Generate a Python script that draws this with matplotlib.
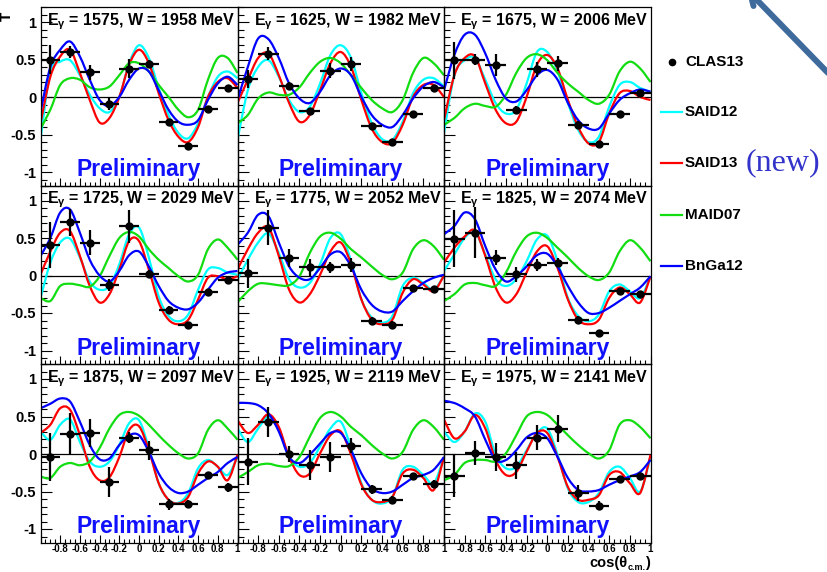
import numpy as np
import matplotlib
matplotlib.use("Agg")
import matplotlib.pyplot as plt
from matplotlib.lines import Line2D
from matplotlib.path import Path
from matplotlib.patches import PathPatch
from matplotlib.ticker import MultipleLocator

plt.rcParams['font.family'] = ['Liberation Sans', 'DejaVu Sans']
plt.rcParams['font.weight'] = 'bold'
plt.rcParams['mathtext.fontset'] = 'custom'
plt.rcParams['mathtext.rm'] = 'Liberation Sans:bold'
plt.rcParams['mathtext.it'] = 'Liberation Sans:bold'
plt.rcParams['mathtext.bf'] = 'Liberation Sans:bold'

# ---------------- data ----------------
E_GAMMA = [1575, 1625, 1675, 1725, 1775, 1825, 1875, 1925, 1975]
W_MEV = [1958, 1982, 2006, 2029, 2052, 2074, 2097, 2119, 2141]

X_BINS = [-0.9, -0.7, -0.5, -0.3, -0.1, 0.1, 0.3, 0.5, 0.7, 0.9]
X_BIN_HALF = 0.1

CLAS13_T = [
    [0.50, 0.60, 0.33, -0.09, 0.38, 0.44, -0.33, -0.65, -0.16, 0.12],
    [0.24, 0.58, 0.15, -0.19, 0.35, 0.44, -0.39, -0.60, -0.22, 0.12],
    [0.49, 0.50, 0.43, -0.17, 0.37, 0.45, -0.37, -0.62, -0.22, 0.06],
    [0.41, 0.71, 0.44, -0.12, 0.66, 0.02, -0.46, -0.66, -0.22, -0.06],
    [0.03, 0.64, 0.23, 0.11, 0.11, 0.14, -0.60, -0.66, -0.16, -0.18],
    [0.49, 0.57, 0.24, 0.02, 0.14, 0.17, -0.59, -0.77, -0.20, -0.25],
    [-0.04, 0.27, 0.28, -0.37, 0.22, 0.05, -0.67, -0.66, -0.28, -0.44],
    [-0.10, 0.43, 0.00, -0.15, -0.04, 0.11, -0.47, -0.61, -0.29, -0.40],
    [-0.29, 0.01, -0.04, -0.15, 0.22, 0.34, -0.52, -0.69, -0.33, -0.29],
]
CLAS13_ERR = [
    [0.19, 0.085, 0.10, 0.08, 0.13, 0.05, 0.04, 0.03, 0.04, 0.04],
    [0.12, 0.09, 0.05, 0.05, 0.10, 0.09, 0.04, 0.03, 0.03, 0.03],
    [0.25, 0.07, 0.15, 0.05, 0.10, 0.10, 0.05, 0.03, 0.03, 0.03],
    [0.31, 0.18, 0.17, 0.08, 0.22, 0.05, 0.05, 0.04, 0.04, 0.05],
    [0.19, 0.23, 0.12, 0.11, 0.07, 0.09, 0.05, 0.05, 0.03, 0.03],
    [0.38, 0.34, 0.10, 0.10, 0.08, 0.06, 0.05, 0.05, 0.03, 0.03],
    [0.32, 0.28, 0.19, 0.20, 0.07, 0.13, 0.07, 0.05, 0.04, 0.06],
    [0.31, 0.20, 0.11, 0.20, 0.20, 0.10, 0.06, 0.05, 0.04, 0.05],
    [0.28, 0.16, 0.19, 0.18, 0.17, 0.18, 0.11, 0.06, 0.04, 0.04],
]

# model curves sampled at cos(theta) = -1.0, -0.9, ..., 1.0
X_GRID = [-1.0, -0.9, -0.8, -0.7, -0.6, -0.5, -0.4, -0.3, -0.2, -0.1, 0.0,
          0.1, 0.2, 0.3, 0.4, 0.5, 0.6, 0.7, 0.8, 0.9, 1.0]

SAID12 = [
    [-0.57, 0.34, 0.47, 0.49, 0.29, 0.03, -0.15, -0.20, 0.00, 0.45, 0.69, 0.52, 0.12, -0.24, -0.48, -0.55, -0.35, 0.00, 0.27, 0.34, 0.25],
    [-0.57, 0.09, 0.40, 0.49, 0.27, -0.04, -0.20, -0.13, 0.18, 0.56, 0.69, 0.52, 0.05, -0.35, -0.56, -0.57, -0.33, 0.05, 0.23, 0.25, 0.14],
    [-0.48, 0.29, 0.49, 0.52, 0.23, -0.08, -0.22, -0.17, 0.18, 0.60, 0.60, 0.34, -0.08, -0.44, -0.60, -0.53, -0.13, 0.16, 0.20, 0.12, 0.07],
    [-0.30, 0.17, 0.44, 0.49, 0.24, -0.08, -0.19, -0.14, 0.15, 0.55, 0.64, 0.24, -0.28, -0.54, -0.61, -0.52, -0.19, 0.08, 0.10, 0.04, 0.01],
    [-0.05, 0.21, 0.44, 0.56, 0.30, -0.05, -0.16, -0.10, 0.15, 0.50, 0.55, 0.19, -0.32, -0.56, -0.63, -0.54, -0.14, -0.03, -0.10, -0.19, 0.00],
    [0.06, 0.28, 0.50, 0.58, 0.28, -0.05, -0.14, -0.05, 0.19, 0.48, 0.53, 0.19, -0.30, -0.54, -0.61, -0.52, -0.21, -0.12, -0.21, -0.30, -0.01],
    [0.30, 0.19, 0.39, 0.46, 0.16, -0.10, -0.17, -0.10, 0.12, 0.41, 0.45, 0.08, -0.39, -0.61, -0.65, -0.52, -0.19, -0.08, -0.17, -0.28, -0.04],
    [0.34, 0.16, 0.34, 0.50, 0.34, -0.04, -0.17, -0.12, 0.10, 0.34, 0.43, 0.08, -0.39, -0.61, -0.66, -0.57, -0.21, -0.17, -0.28, -0.39, -0.04],
    [0.30, 0.16, 0.30, 0.54, 0.43, -0.01, -0.19, -0.17, 0.05, 0.28, 0.34, -0.01, -0.46, -0.64, -0.64, -0.52, -0.24, -0.17, -0.32, -0.50, -0.04],
]
SAID13 = [
    [-0.35, 0.27, 0.54, 0.63, 0.32, -0.04, -0.34, -0.28, 0.00, 0.43, 0.63, 0.45, 0.05, -0.31, -0.53, -0.60, -0.40, 0.00, 0.20, 0.25, 0.12],
    [-0.08, 0.23, 0.52, 0.58, 0.29, -0.08, -0.33, -0.24, 0.09, 0.45, 0.60, 0.40, -0.04, -0.42, -0.60, -0.61, -0.37, 0.00, 0.16, 0.16, 0.00],
    [-0.31, 0.29, 0.52, 0.54, 0.18, -0.17, -0.35, -0.33, 0.00, 0.43, 0.56, 0.38, -0.04, -0.40, -0.62, -0.60, -0.22, 0.05, 0.08, 0.00, -0.04],
    [0.01, 0.32, 0.57, 0.59, 0.26, -0.14, -0.36, -0.25, 0.08, 0.46, 0.46, 0.08, -0.36, -0.59, -0.65, -0.59, -0.32, -0.03, -0.01, -0.05, -0.01],
    [0.08, 0.35, 0.57, 0.64, 0.26, -0.19, -0.36, -0.25, 0.01, 0.32, 0.44, 0.15, -0.32, -0.59, -0.65, -0.59, -0.23, -0.05, -0.12, -0.21, 0.00],
    [0.17, 0.37, 0.52, 0.60, 0.26, -0.16, -0.36, -0.25, 0.04, 0.32, 0.39, 0.10, -0.32, -0.59, -0.65, -0.59, -0.30, -0.16, -0.25, -0.36, -0.01],
    [0.28, 0.39, 0.61, 0.59, 0.25, -0.17, -0.35, -0.31, -0.04, 0.32, 0.37, 0.05, -0.39, -0.61, -0.66, -0.57, -0.26, -0.10, -0.17, -0.35, -0.01],
    [0.45, 0.28, 0.39, 0.53, 0.36, -0.04, -0.28, -0.26, 0.01, 0.25, 0.30, -0.01, -0.41, -0.61, -0.64, -0.57, -0.26, -0.21, -0.32, -0.48, -0.04],
    [0.46, 0.21, 0.30, 0.52, 0.34, -0.08, -0.28, -0.24, 0.03, 0.28, 0.28, -0.04, -0.44, -0.61, -0.61, -0.55, -0.28, -0.24, -0.39, -0.52, -0.01],
]
MAID07 = [
    [-0.42, -0.17, 0.16, 0.25, 0.23, 0.13, 0.10, 0.14, 0.29, 0.45, 0.45, 0.34, 0.16, 0.00, -0.17, -0.27, -0.17, 0.23, 0.52, 0.52, 0.32],
    [-0.35, -0.24, -0.02, 0.06, 0.03, 0.03, 0.13, 0.32, 0.47, 0.52, 0.45, 0.29, 0.12, -0.04, -0.15, -0.20, -0.04, 0.32, 0.52, 0.45, 0.29],
    [-0.37, -0.28, -0.15, -0.09, -0.12, -0.13, 0.03, 0.32, 0.52, 0.57, 0.49, 0.32, 0.18, 0.07, -0.04, -0.09, 0.03, 0.34, 0.47, 0.38, 0.20],
    [-0.30, -0.34, -0.14, -0.11, -0.13, -0.15, -0.01, 0.26, 0.50, 0.58, 0.52, 0.35, 0.21, 0.10, -0.01, -0.08, 0.01, 0.35, 0.48, 0.37, 0.21],
    [-0.36, -0.21, -0.11, -0.11, -0.13, -0.13, -0.01, 0.30, 0.52, 0.57, 0.49, 0.35, 0.24, 0.12, 0.01, -0.05, 0.04, 0.35, 0.47, 0.39, 0.21],
    [-0.34, -0.25, -0.12, -0.10, -0.13, -0.14, 0.04, 0.32, 0.52, 0.57, 0.50, 0.37, 0.24, 0.10, -0.01, -0.06, 0.04, 0.32, 0.47, 0.37, 0.19],
    [-0.30, -0.32, -0.17, -0.12, -0.15, -0.10, 0.08, 0.34, 0.52, 0.56, 0.51, 0.39, 0.25, 0.12, 0.01, -0.06, 0.01, 0.32, 0.45, 0.34, 0.19],
    [-0.32, -0.24, -0.15, -0.13, -0.16, -0.16, -0.04, 0.23, 0.48, 0.56, 0.50, 0.36, 0.25, 0.12, 0.01, -0.06, 0.03, 0.32, 0.45, 0.36, 0.19],
    [-0.35, -0.28, -0.12, -0.08, -0.08, -0.10, 0.01, 0.25, 0.50, 0.56, 0.52, 0.39, 0.25, 0.12, 0.01, -0.06, 0.05, 0.39, 0.45, 0.36, 0.21],
]
BNGA12 = [
    [-0.20, 0.40, 0.63, 0.74, 0.54, 0.23, -0.04, -0.12, 0.00, 0.23, 0.38, 0.34, 0.09, -0.17, -0.33, -0.37, -0.31, -0.04, 0.18, 0.27, 0.16],
    [-0.04, 0.40, 0.78, 0.77, 0.52, 0.18, -0.02, -0.08, 0.07, 0.29, 0.38, 0.29, 0.00, -0.24, -0.37, -0.40, -0.24, -0.02, 0.14, 0.20, 0.13],
    [0.09, 0.56, 0.83, 0.83, 0.58, 0.23, -0.02, -0.06, 0.09, 0.29, 0.36, 0.23, -0.08, -0.31, -0.42, -0.42, -0.22, -0.04, 0.05, 0.10, 0.07],
    [0.26, 0.50, 0.84, 0.88, 0.57, 0.21, 0.00, -0.08, 0.06, 0.27, 0.32, 0.12, -0.14, -0.34, -0.43, -0.45, -0.36, -0.19, -0.03, 0.04, 0.06],
    [0.41, 0.57, 0.81, 0.79, 0.44, 0.12, -0.03, -0.05, 0.10, 0.28, 0.31, 0.12, -0.19, -0.39, -0.48, -0.48, -0.34, -0.21, -0.10, -0.03, 0.01],
    [0.55, 0.66, 0.84, 0.75, 0.39, 0.08, -0.08, -0.01, 0.12, 0.27, 0.29, 0.12, -0.14, -0.36, -0.50, -0.50, -0.43, -0.34, -0.25, -0.16, -0.01],
    [0.61, 0.67, 0.74, 0.70, 0.43, 0.12, -0.07, -0.06, 0.12, 0.25, 0.25, 0.03, -0.26, -0.44, -0.52, -0.50, -0.41, -0.32, -0.24, -0.12, -0.04],
    [0.68, 0.68, 0.65, 0.54, 0.30, -0.04, -0.12, -0.01, 0.14, 0.28, 0.28, 0.05, -0.26, -0.46, -0.52, -0.50, -0.41, -0.32, -0.28, -0.21, -0.04],
    [0.71, 0.68, 0.61, 0.50, 0.19, -0.08, -0.08, 0.05, 0.22, 0.28, 0.21, -0.04, -0.32, -0.48, -0.50, -0.48, -0.41, -0.35, -0.30, -0.24, -0.08],
]

MODEL_NAMES = ['SAID12', 'SAID13', 'MAID07', 'BnGa12']
MODEL_COLORS = ['#00ffff', '#ff0000', '#11dd11', '#0000ff']
MODEL_DATA = [SAID12, SAID13, MAID07, BNGA12]


def smooth_path(xs, ys):
    """Bezier (Catmull-Rom style) path passing through the given points."""
    xs = np.asarray(xs, float)
    ys = np.asarray(ys, float)
    pts = np.column_stack([xs, ys])
    n = len(pts)
    verts = [pts[0]]
    codes = [Path.MOVETO]
    for k in range(n - 1):
        p0 = pts[k - 1] if k > 0 else pts[k]
        p1 = pts[k]
        p2 = pts[k + 1]
        p3 = pts[k + 2] if k + 2 < n else pts[k + 1]
        c1 = p1 + (p2 - p0) / 6.0
        c2 = p2 - (p3 - p1) / 6.0
        verts += [c1, c2, p2]
        codes += [Path.CURVE4] * 3
    return Path(verts, codes)


# ---------------- layout ----------------
W_PX, H_PX = 827, 572
fig = plt.figure(figsize=(W_PX / 100, H_PX / 100), dpi=100)

COL_EDGES = [(40.5, 237.5), (237.5, 444.0), (444.0, 650.5)]
ROW_TOPS = [7.0, 185.5, 364.0]
ROW_H = 178.5

for i in range(9):
    r, c = divmod(i, 3)
    l, rr = COL_EDGES[c]
    top = ROW_TOPS[r]
    ax = fig.add_axes([l / W_PX, 1 - (top + ROW_H) / H_PX, (rr - l) / W_PX, ROW_H / H_PX])
    ax.set_facecolor('none')
    ax.set_xlim(-1, 1)
    ax.set_ylim(-1.18, 1.2)
    ax.axhline(0, color='black', lw=0.9, zorder=1)
    for name, col, data in zip(MODEL_NAMES, MODEL_COLORS, MODEL_DATA):
        patch = PathPatch(smooth_path(X_GRID, data[i]), facecolor='none', edgecolor=col,
                          lw=1.6, zorder=2, transform=ax.transData)
        ax.add_patch(patch)
    ax.errorbar(X_BINS, CLAS13_T[i], xerr=X_BIN_HALF, yerr=CLAS13_ERR[i], fmt='o',
                color='black', ms=5, elinewidth=1.6, capsize=0, zorder=4)
    ax.text(0.99, 0.92, r'E$_{\gamma}$ = %d, W = %d MeV' % (E_GAMMA[i], W_MEV[i]),
            transform=ax.transAxes, ha='right', va='center', fontsize=11.5,
            fontweight='bold', zorder=5)
    ax.text(0.5, 0.088, 'Preliminary', transform=ax.transAxes, ha='center', va='center',
            fontsize=16.5, fontweight='bold', color='#1010ff', zorder=5)

    ax.set_yticks([-1, -0.5, 0, 0.5, 1])
    ax.yaxis.set_minor_locator(MultipleLocator(0.1))
    ax.set_xticks(np.round(np.arange(-1, 1.01, 0.2), 1))
    ax.xaxis.set_minor_locator(MultipleLocator(0.05))
    ax.tick_params(axis='both', which='both', direction='in', top=False, right=False)
    ax.tick_params(axis='y', which='major', length=8, width=0.8)
    ax.tick_params(axis='y', which='minor', length=4, width=0.8)
    ax.tick_params(axis='x', which='major', length=6, width=0.8)
    ax.tick_params(axis='x', which='minor', length=3, width=0.8)
    for s in ax.spines.values():
        s.set_linewidth(0.9)
    if c == 0:
        ax.set_yticklabels(['-1', '-0.5', '0', '0.5', '1'], fontsize=10.5, fontweight='bold')
        ax.tick_params(axis='y', pad=3)
    else:
        ax.set_yticklabels([])
    if r == 2:
        labs = ['', '-0.8', '-0.6', '-0.4', '-0.2', '0', '0.2', '0.4', '0.6', '0.8', '1']
        ax.set_xticklabels(labs, fontsize=7, fontweight='bold')
        ax.tick_params(axis='x', pad=1)
    else:
        ax.set_xticklabels([])

# axis titles
fig.text(7 / W_PX, 1 - 16 / H_PX, 'T', rotation=90, ha='center', va='center',
         fontsize=11, fontweight='bold')

# x-axis title "cos(θ_c.m.)" built from pieces, right-aligned at x = 650 px
renderer = fig.canvas.get_renderer()
base_y = 1 - 566.5 / H_PX
sub_y = 1 - 569.5 / H_PX
t_close = fig.text(650 / W_PX, base_y, ')', ha='right', va='baseline',
                   fontsize=10.5, fontweight='bold')
x_right = t_close.get_window_extent(renderer).x0
t_sub = fig.text(x_right / W_PX, sub_y, 'c.m.', ha='right', va='baseline',
                 fontsize=6.5, fontweight='bold')
x_right = t_sub.get_window_extent(renderer).x0
fig.text(x_right / W_PX, base_y, 'cos(\u03b8', ha='right', va='baseline',
         fontsize=10.5, fontweight='bold')

# legend
LEG_Y = [62, 112, 163, 215, 266]
fig.add_artist(Line2D([672 / W_PX], [1 - LEG_Y[0] / H_PX], marker='o', color='black',
                      ms=4.5, lw=0))
fig.text(685 / W_PX, 1 - LEG_Y[0] / H_PX, 'CLAS13', ha='left', va='center',
         fontsize=11, fontweight='bold')
for name, col, yy in zip(MODEL_NAMES, MODEL_COLORS, LEG_Y[1:]):
    fig.add_artist(Line2D([661 / W_PX, 682 / W_PX], [1 - yy / H_PX] * 2, color=col, lw=1.6))
    fig.text(685 / W_PX, 1 - yy / H_PX, name, ha='left', va='center',
             fontsize=11, fontweight='bold')
fig.text(746 / W_PX, 1 - 163 / H_PX, '(new)', ha='left', va='center',
         fontsize=23, fontweight='normal', family='Liberation Serif', color='#3333cc')

# decorative arrow line at top-right
fig.add_artist(Line2D([757 / W_PX, 830 / W_PX], [1 - 0 / H_PX, 1 - 75 / H_PX],
                      color='#3f6a9c', lw=4.3, solid_capstyle='round'))
fig.add_artist(Line2D([752 / W_PX, 753.5 / W_PX], [1 - 0 / H_PX, 1 - 6 / H_PX],
                      color='#3f6a9c', lw=4.3, solid_capstyle='round'))

fig.savefig('out.png', dpi=100)
